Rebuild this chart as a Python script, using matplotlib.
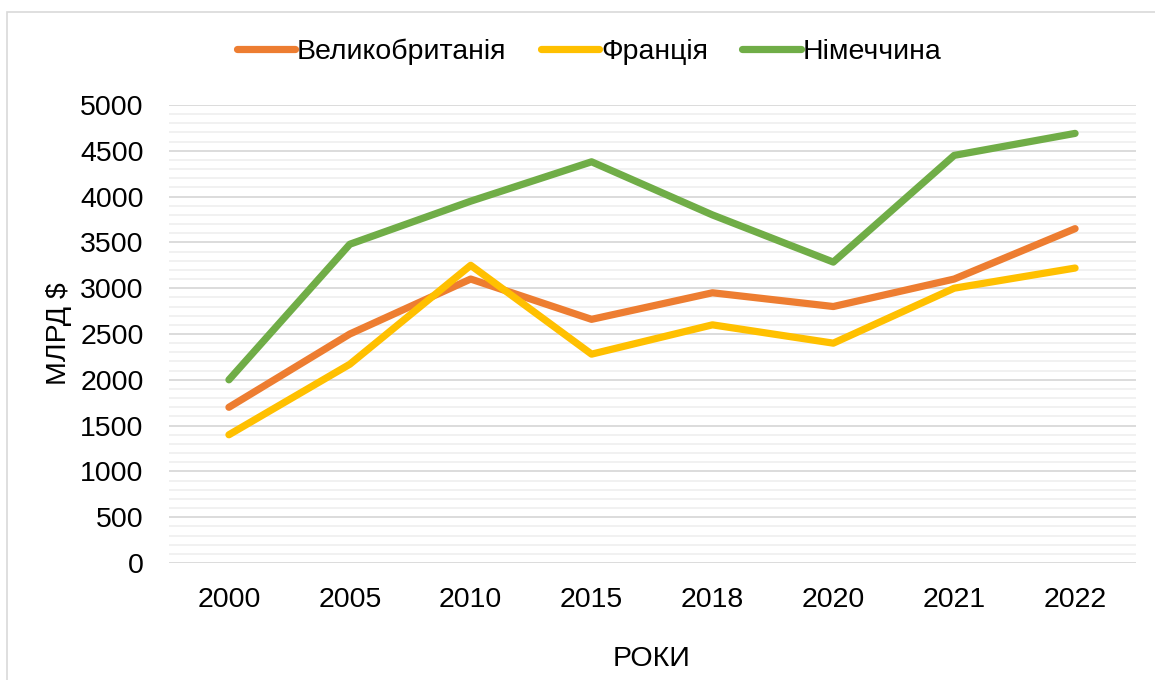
import matplotlib
matplotlib.use("Agg")
import matplotlib.pyplot as plt
from matplotlib.patches import Rectangle
from matplotlib.ticker import MultipleLocator

years = ["2000", "2005", "2010", "2015", "2018", "2020", "2021", "2022"]
uk = [1700, 2500, 3100, 2660, 2950, 2800, 3100, 3650]
france = [1400, 2170, 3250, 2280, 2600, 2400, 3000, 3220]
germany = [2000, 3480, 3950, 4380, 3800, 3285, 4450, 4690]
series_names = ["Великобританія", "Франція", "Німеччина"]
colors = ["#ED7D31", "#FFC000", "#70AD47"]
y_label = "МЛРД $"
x_label = "РОКИ"

plt.rcParams['font.family'] = ['Liberation Sans', 'DejaVu Sans']
FS = 20.5

fig = plt.figure(figsize=(11.55, 6.8), dpi=100)
ax = fig.add_axes([168.5 / 1155, 1 - 563 / 680, (1135.5 - 168.5) / 1155, (563 - 105) / 680])

x = list(range(len(years)))
for vals, name, c in zip([uk, france, germany], series_names, colors):
    ax.plot(x, vals, color=c, lw=5.2, solid_capstyle='round', solid_joinstyle='round', label=name)

ax.set_xlim(-0.5, len(years) - 0.5)
ax.set_ylim(0, 5000)
ax.yaxis.set_major_locator(MultipleLocator(500))
ax.yaxis.set_minor_locator(MultipleLocator(100))
ax.set_xticks(x)
ax.set_xticklabels(years)
ax.grid(which='major', axis='y', color='#d9d9d9', lw=1.3, zorder=0)
ax.grid(which='minor', axis='y', color='#f0f0f0', lw=1.3, zorder=0)
ax.set_axisbelow(True)
for s in ax.spines.values():
    s.set_visible(False)
ax.tick_params(axis='both', which='both', length=0, labelsize=FS, colors='#000000')
ax.tick_params(axis='y', pad=18)
ax.tick_params(axis='x', pad=17)
ax.set_xlabel(x_label, fontsize=FS, labelpad=24)
ax.set_ylabel(y_label, fontsize=FS, labelpad=6)

fig.patches.append(Rectangle((7 / 1155, -0.1), 1.2, 1.1 - 12 / 680, transform=fig.transFigure,
                             fill=False, edgecolor='#d9d9d9', lw=1.2))

fig.legend(loc='center', bbox_to_anchor=(589 / 1155, 1 - 52 / 680), ncol=3, frameon=False,
           fontsize=FS, handlelength=2.05, handletextpad=0.07, columnspacing=1.2)

fig.savefig("out.png", dpi=100)
